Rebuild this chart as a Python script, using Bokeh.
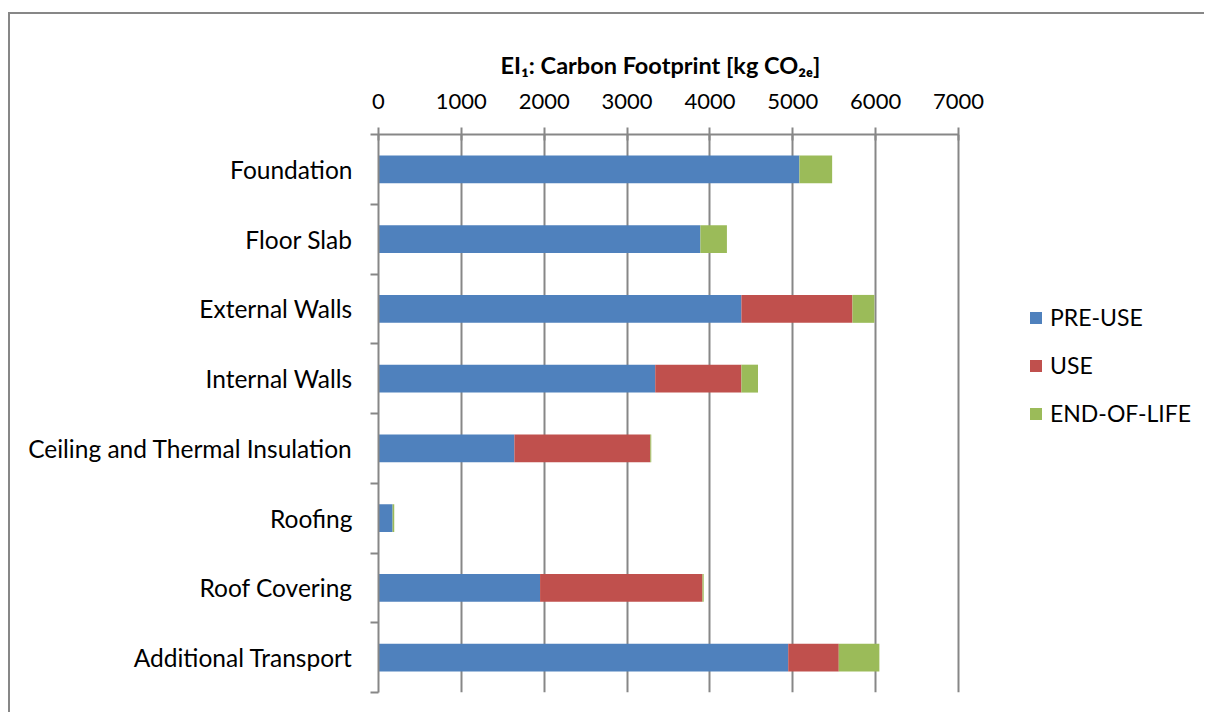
from bokeh.plotting import figure
from bokeh.models import (Range1d, FixedTicker, ColumnDataSource, Legend, LegendItem)
from bokeh.embed import file_html
from bokeh.resources import INLINE

categories = ["Foundation", "Floor Slab", "External Walls", "Internal Walls",
              "Ceiling and Thermal Insulation", "Roofing", "Roof Covering",
              "Additional Transport"]
pre_use = [5080, 3885, 4380, 3340, 1640, 170, 1950, 4945]
use = [0, 0, 1340, 1040, 1640, 0, 1960, 610]
end_of_life = [395, 320, 265, 200, 12, 20, 15, 490]
series_names = ["PRE-USE", "USE", "END-OF-LIFE"]
x_ticks = [0, 1000, 2000, 3000, 4000, 5000, 6000, 7000]
title_text = "EI\u2081: Carbon Footprint [kg CO\u2082\u2091]"

colors = ["#4F81BD", "#C0504D", "#9BBB59"]
grey = "#878787"
font = "Lato"

n = len(categories)
ypos = [n - i - 0.5 for i in range(n)]
source = ColumnDataSource(dict(y=ypos, pre=pre_use, use=use, eol=end_of_life))

axis_max = x_ticks[-1]
# frame extends to the right to hold the legend; axis bounded to 0..7000
view_max = axis_max * 818 / 580

p = figure(width=1196, height=700, output_backend="svg", toolbar_location=None,
           x_range=Range1d(0, view_max), y_range=Range1d(0, n),
           x_axis_location="above",
           min_border_left=368, min_border_right=10,
           min_border_top=120, min_border_bottom=22)
p.styles = {"margin-top": "12px", "margin-left": "8px",
            "border-top": "2px solid #878787",
            "border-left": "2px solid #878787"}
p.outline_line_color = None
p.background_fill_color = "white"
p.border_fill_color = "white"

p.title.text = title_text
p.title.text_font = font
p.title.text_font_style = "bold"
p.title.text_font_size = "23.5px"
p.title.text_color = "black"
p.title.align = "left"
p.title.offset = 122
p.title.standoff = 24

renderers = p.hbar_stack(["pre", "use", "eol"], y="y", height=0.4,
                         color=colors, line_color=None, source=source)

# top x-axis
xa = p.xaxis[0]
xa.ticker = FixedTicker(ticks=x_ticks)
xa.bounds = (0, axis_max)
xa.axis_line_color = grey
xa.axis_line_width = 2
xa.major_tick_line_color = grey
xa.major_tick_line_width = 2
xa.major_tick_out = 7
xa.major_tick_in = 6
xa.minor_tick_line_color = None
xa.major_label_text_font = font
xa.major_label_text_font_size = "22px"
xa.major_label_text_color = "black"
xa.major_label_standoff = 19

# left y-axis with category labels at centres, ticks at boundaries
ya = p.yaxis[0]
ya.ticker = FixedTicker(ticks=ypos, minor_ticks=list(range(n + 1)))
ya.major_label_overrides = {yv: c for yv, c in zip(ypos, categories)}
ya.axis_line_color = grey
ya.axis_line_width = 2
ya.major_tick_line_color = None
ya.major_tick_out = 0
ya.major_tick_in = 0
ya.minor_tick_line_color = grey
ya.minor_tick_line_width = 2
ya.minor_tick_out = 8
ya.minor_tick_in = 0
ya.major_label_text_font = font
ya.major_label_text_font_size = "24.5px"
ya.major_label_text_color = "black"
ya.major_label_standoff = 18

p.xgrid.grid_line_color = grey
p.xgrid.grid_line_width = 2
p.ygrid.grid_line_color = None

legend = Legend(items=[LegendItem(label=nm, renderers=[r])
                       for nm, r in zip(series_names, renderers)],
                location=(650, 265), orientation="vertical",
                glyph_width=15, glyph_height=15, label_standoff=7,
                label_text_font=font, label_text_font_size="23px",
                label_text_color="black", spacing=20, padding=0, margin=0,
                border_line_color=None, background_fill_alpha=0)
p.add_layout(legend, "center")

open("out.html", "w").write(file_html(p, INLINE))
